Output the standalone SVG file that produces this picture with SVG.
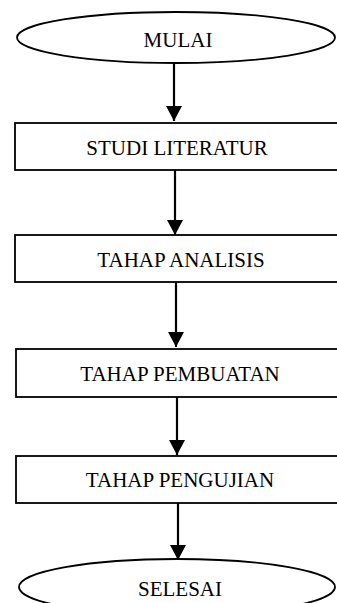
<svg xmlns="http://www.w3.org/2000/svg" width="337" height="603" viewBox="0 0 337 603">
<style>
.shape{fill:#fff;stroke:#000;stroke-width:1.8}
.lbl{font-family:"Liberation Serif","Times New Roman",serif;font-size:21px;fill:#000;text-anchor:middle}
.conn{stroke:#000;stroke-width:2.2;fill:none}
</style>
<defs>
<marker id="ah" markerUnits="userSpaceOnUse" markerWidth="17" markerHeight="16" refX="15" refY="8" orient="auto" viewBox="0 0 15 16">
<path d="M0,0 L15,8 L0,16 Z" fill="#000"/>
</marker>
</defs>
<g id="connectors">
<line class="conn" x1="174" y1="64" x2="174" y2="121" marker-end="url(#ah)"/>
<line class="conn" x1="175" y1="170" x2="175" y2="235" marker-end="url(#ah)"/>
<line class="conn" x1="176" y1="282" x2="176" y2="347" marker-end="url(#ah)"/>
<line class="conn" x1="177" y1="397" x2="177" y2="455" marker-end="url(#ah)"/>
<line class="conn" x1="178" y1="503" x2="178" y2="560" marker-end="url(#ah)"/>
</g>
<g id="mulai">
<ellipse class="shape" cx="176" cy="37.5" rx="159" ry="25.5"/>
<text class="lbl" x="178" y="47">MULAI</text>
</g>
<g id="studi">
<rect class="shape" x="15" y="123" width="340" height="47"/>
<text class="lbl" x="177" y="155">STUDI LITERATUR</text>
</g>
<g id="analisis">
<rect class="shape" x="15" y="235" width="340" height="47"/>
<text class="lbl" x="181" y="267">TAHAP ANALISIS</text>
</g>
<g id="pembuatan">
<rect class="shape" x="16" y="349" width="340" height="48"/>
<text class="lbl" x="180" y="381">TAHAP PEMBUATAN</text>
</g>
<g id="pengujian">
<rect class="shape" x="16" y="456" width="340" height="47"/>
<text class="lbl" x="180" y="487">TAHAP PENGUJIAN</text>
</g>
<g id="selesai">
<ellipse class="shape" cx="177" cy="587" rx="158" ry="28"/>
<text class="lbl" x="180" y="596">SELESAI</text>
</g>
</svg>
